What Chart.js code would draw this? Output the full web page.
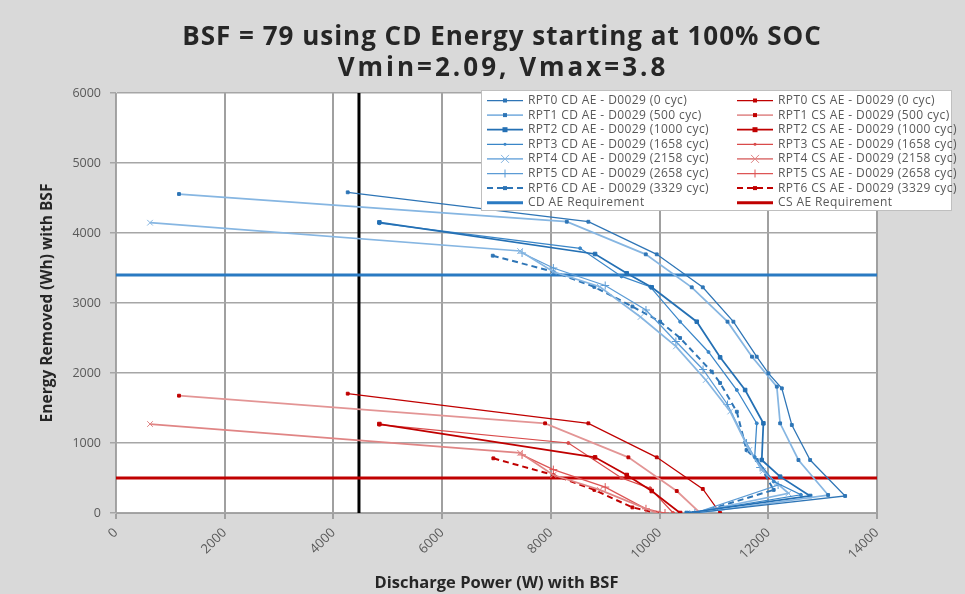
<!DOCTYPE html>
<html>
<head>
<meta charset="utf-8">
<script src="https://cdn.jsdelivr.net/npm/chart.js@4.4.0/dist/chart.umd.min.js"></script>
<style>
  html, body { margin: 0; padding: 0; background: #d9d9d9; }
  #wrap { width: 965px; height: 594px; }
</style>
</head>
<body>
<div id="wrap"><canvas id="bsfChart" width="965" height="594"></canvas></div>
<script>
// discharge power (W) / energy removed (Wh) pairs, one list per RPT
const rpt0CD = [[4263,4581],[8690,4161],[9948,3695],[10795,3224],[11358,2733],[11787,2233],[12003,1995],[12249,1781],[12433,1257],[12770,757],[13414,243],[10620,0]];
const rpt1CD = [[1159,4557],[8293,4161],[9746,3695],[10592,3224],[11250,2733],[11700,2233],[12157,1805],[12218,1281],[12555,757],[13101,257],[10700,0]];
const rpt2CD = [[4845,4152],[8813,3700],[9396,3424],[9856,3224],[10684,2733],[11114,2224],[11574,1757],[11910,1281],[11880,757],[12218,519],[12770,243],[10500,0]];
const rpt3CD = [[4845,4140],[8538,3781],[9300,3380],[9826,3233],[10378,2733],[10900,2300],[11421,1757],[11788,1281],[11750,800],[12100,450],[12600,260],[10550,0]];
const rpt4CD = [[626,4147],[7434,3743],[8046,3447],[8900,3233],[9650,2800],[10300,2380],[10850,1900],[11300,1450],[11650,900],[11900,600],[12371,281],[10600,0]];
const rpt5CD = [[7470,3714],[8046,3500],[9000,3250],[9750,2900],[10300,2450],[10800,2050],[11250,1550],[11600,1000],[11850,650],[12181,400],[10650,0]];
const rpt6CD = [[6931,3676],[8046,3447],[8800,3230],[9500,2950],[10010,2733],[10378,2500],[10960,2019],[11114,1857],[11421,1447],[11600,900],[11788,757],[12100,330],[10700,0]];

const rpt0CS = [[4263,1705],[8690,1281],[9948,795],[10795,344],[11114,0]];
const rpt1CS = [[1159,1676],[7894,1281],[9426,795],[10316,314],[10746,0]];
const rpt2CS = [[4845,1271],[8813,795],[9396,543],[9856,314],[10378,0]];
const rpt3CS = [[4845,1262],[8322,1000],[9300,500],[9826,353],[10250,0]];
const rpt4CS = [[626,1271],[7434,860],[8046,543],[8900,330],[9948,0]];
const rpt5CS = [[7470,830],[8046,620],[9000,370],[9750,60],[10100,0]];
const rpt6CS = [[6942,781],[8046,543],[8800,330],[9500,80],[9948,0]];

const cdRequirement = 3400;
const csRequirement = 500;
const markerPower = 4470;

const cdLabels = ['RPT0 CD AE - D0029 (0 cyc)', 'RPT1 CD AE - D0029 (500 cyc)', 'RPT2 CD AE - D0029 (1000 cyc)',
  'RPT3 CD AE - D0029 (1658 cyc)', 'RPT4 CD AE - D0029 (2158 cyc)', 'RPT5 CD AE - D0029 (2658 cyc)', 'RPT6 CD AE - D0029 (3329 cyc)'];
const csLabels = ['RPT0 CS AE - D0029 (0 cyc)', 'RPT1 CS AE - D0029 (500 cyc)', 'RPT2 CS AE - D0029 (1000 cyc)',
  'RPT3 CS AE - D0029 (1658 cyc)', 'RPT4 CS AE - D0029 (2158 cyc)', 'RPT5 CS AE - D0029 (2658 cyc)', 'RPT6 CS AE - D0029 (3329 cyc)'];

const powerTicks = [0, 2000, 4000, 6000, 8000, 10000, 12000, 14000];
const energyTicks = [0, 1000, 2000, 3000, 4000, 5000, 6000];

const FONT = "'Open Sans', 'DejaVu Sans', sans-serif";

const cdStyles = [
  { color: '#2e75b6', width: 1.25, point: 'rect', r: 2 },
  { color: '#86b6e2', width: 1.75, point: 'rect', r: 2, pointColor: '#2e75b6' },
  { color: '#2470b4', width: 1.75, point: 'rect', r: 2.5 },
  { color: '#3a86c8', width: 1.25, point: 'circle', r: 1.5 },
  { color: '#86b6e2', width: 1.75, point: 'crossRot', r: 4 },
  { color: '#5b9bd5', width: 1.25, point: 'cross', r: 4 },
  { color: '#2e75b6', width: 2, point: 'rect', r: 2, dash: [6, 4] }
];
const csStyles = [
  { color: '#c00000', width: 1.25, point: 'rect', r: 2 },
  { color: '#e39595', width: 1.75, point: 'rect', r: 2, pointColor: '#c00000' },
  { color: '#c00000', width: 1.75, point: 'rect', r: 2.5 },
  { color: '#d94a4a', width: 1.25, point: 'circle', r: 1.5 },
  { color: '#e08585', width: 1.75, point: 'crossRot', r: 4 },
  { color: '#dd5555', width: 1.25, point: 'cross', r: 4 },
  { color: '#c00000', width: 2, point: 'rect', r: 2, dash: [6, 4] }
];

const toXY = pts => pts.map(p => ({ x: p[0], y: p[1] }));

function series(label, pts, st, col, row) {
  return {
    label: label,
    data: toXY(pts),
    showLine: true,
    borderColor: st.color,
    backgroundColor: st.pointColor || st.color,
    pointBorderColor: st.pointColor || st.color,
    pointBackgroundColor: st.pointColor || st.color,
    borderWidth: st.width,
    borderDash: st.dash || [],
    pointStyle: st.point,
    pointRadius: st.r,
    pointBorderWidth: 1,
    tension: 0,
    legendSlot: { col: col, row: row, style: st }
  };
}

const cdSets = [rpt0CD, rpt1CD, rpt2CD, rpt3CD, rpt4CD, rpt5CD, rpt6CD];
const csSets = [rpt0CS, rpt1CS, rpt2CS, rpt3CS, rpt4CS, rpt5CS, rpt6CS];

const datasets = [];
cdSets.forEach((pts, i) => datasets.push(series(cdLabels[i], pts, cdStyles[i], 0, i)));
csSets.forEach((pts, i) => datasets.push(series(csLabels[i], pts, csStyles[i], 1, i)));

function flatLine(label, value, color, col) {
  return {
    label: label,
    data: [{ x: 0, y: value }, { x: 14000, y: value }],
    showLine: true,
    borderColor: color,
    borderWidth: 3,
    pointRadius: 0,
    legendSlot: { col: col, row: 7, style: { color: color, width: 3 } }
  };
}
datasets.push(flatLine('CD AE Requirement', cdRequirement, '#2a7ac2', 0));
datasets.push(flatLine('CS AE Requirement', csRequirement, '#c00000', 1));
datasets.push({
  label: 'marker',
  data: [{ x: markerPower, y: 0 }, { x: markerPower, y: 6000 }],
  showLine: true,
  borderColor: '#000000',
  borderWidth: 3,
  pointRadius: 0
});

function drawMarker(ctx, style, x, y, r, color) {
  ctx.save();
  ctx.fillStyle = color;
  ctx.strokeStyle = color;
  ctx.lineWidth = 1;
  ctx.setLineDash([]);
  ctx.beginPath();
  if (style === 'rect') {
    ctx.fillRect(x - r, y - r, 2 * r, 2 * r);
  } else if (style === 'crossRot') {
    ctx.moveTo(x - r, y - r); ctx.lineTo(x + r, y + r);
    ctx.moveTo(x + r, y - r); ctx.lineTo(x - r, y + r);
    ctx.stroke();
  } else if (style === 'cross') {
    ctx.moveTo(x - r, y); ctx.lineTo(x + r, y);
    ctx.moveTo(x, y - r); ctx.lineTo(x, y + r);
    ctx.stroke();
  } else if (style === 'circle') {
    ctx.arc(x, y, r, 0, Math.PI * 2);
    ctx.fill();
  }
  ctx.restore();
}

// grey page, white plot area
const backdrop = {
  id: 'backdrop',
  beforeDraw(chart) {
    const { ctx, chartArea: a } = chart;
    ctx.save();
    ctx.fillStyle = '#d9d9d9';
    ctx.fillRect(0, 0, chart.width, chart.height);
    ctx.fillStyle = '#ffffff';
    ctx.fillRect(a.left, a.top, a.right - a.left, a.bottom - a.top);
    ctx.restore();
  }
};

// two-line title centred over the plot
const titleLines = {
  id: 'titleLines',
  afterDraw(chart) {
    const ctx = chart.ctx;
    ctx.save();
    ctx.fillStyle = '#262626';
    ctx.font = 'bold 26px ' + FONT;
    ctx.textAlign = 'center';
    ctx.textBaseline = 'middle';
    ctx.letterSpacing = '1px';
    ctx.fillText('BSF = 79 using CD Energy starting at 100% SOC', 502, 38);
    ctx.letterSpacing = '3px';
    ctx.fillText('Vmin=2.09, Vmax=3.8', 503, 69);
    ctx.restore();
  }
};

// two-column legend box sitting in the upper right of the plot
const boxLegend = {
  id: 'boxLegend',
  afterDraw(chart) {
    const ctx = chart.ctx;
    const left = 481, top = 90, w = 470, h = 120;
    const colX = [487, 737];
    const rowY = r => 100.5 + r * 14.6;
    ctx.save();
    ctx.fillStyle = '#ffffff';
    ctx.fillRect(left, top, w, h);
    ctx.strokeStyle = '#bfbfbf';
    ctx.lineWidth = 1;
    ctx.strokeRect(left + 0.5, top + 0.5, w, h);
    ctx.font = '12px ' + FONT;
    ctx.letterSpacing = '0.4px';
    ctx.textBaseline = 'middle';
    chart.data.datasets.forEach(ds => {
      const slot = ds.legendSlot;
      if (!slot) return;
      const st = slot.style;
      const x0 = colX[slot.col], y = rowY(slot.row);
      ctx.save();
      ctx.strokeStyle = st.color;
      ctx.lineWidth = st.width;
      ctx.setLineDash(st.dash || []);
      ctx.beginPath();
      ctx.moveTo(x0, y);
      ctx.lineTo(x0 + 36, y);
      ctx.stroke();
      ctx.restore();
      if (st.point) drawMarker(ctx, st.point, x0 + 18, y, st.r, st.pointColor || st.color);
      ctx.fillStyle = '#595959';
      ctx.fillText(ds.label, x0 + 41, y);
    });
    ctx.restore();
  }
};

const ctx = document.getElementById('bsfChart').getContext('2d');
const bsfChart = new Chart(ctx, {
  type: 'scatter',
  data: { datasets: datasets },
  plugins: [backdrop, titleLines, boxLegend],
  options: {
    responsive: false,
    animation: false,
    layout: { padding: { top: 93, right: 88, left: 36, bottom: 0 } },
    plugins: {
      legend: { display: false },
      title: { display: false },
      tooltip: { enabled: false }
    },
    scales: {
      x: {
        type: 'linear',
        min: 0,
        max: 14000,
        afterFit: s => { s.height = 81; },
        ticks: {
          stepSize: 400,
          autoSkip: false,
          minRotation: 45,
          maxRotation: 45,
          color: '#595959',
          font: { family: FONT, size: 13 },
          padding: 6,
          callback: v => powerTicks.includes(v) ? String(v) : null
        },
        grid: {
          color: c => powerTicks.includes(c.tick.value) ? '#a0a0a0' : '#dcdcdc',
          lineWidth: c => powerTicks.includes(c.tick.value) ? 2 : 1,
          tickColor: c => powerTicks.includes(c.tick.value) ? '#a0a0a0' : 'rgba(0,0,0,0)',
          tickLength: 6
        },
        border: { color: '#a0a0a0', width: 1 },
        title: {
          display: true,
          text: 'Discharge Power (W) with BSF',
          color: '#262626',
          font: { family: FONT, size: 16.5, weight: 'bold' },
          padding: { top: 4, bottom: 1 }
        }
      },
      y: {
        min: 0,
        max: 6000,
        afterFit: s => { s.width = 80; },
        ticks: {
          stepSize: 200,
          autoSkip: false,
          color: '#595959',
          font: { family: FONT, size: 12.5 },
          padding: 9,
          callback: v => energyTicks.includes(v) ? String(v) : null
        },
        grid: {
          color: c => energyTicks.includes(c.tick.value) ? '#a6a6a6' : '#e0e0e0',
          lineWidth: c => energyTicks.includes(c.tick.value) ? 1.5 : 1,
          tickColor: c => energyTicks.includes(c.tick.value) ? '#a6a6a6' : 'rgba(0,0,0,0)',
          tickLength: 6
        },
        border: { color: '#a6a6a6', width: 1 },
        title: {
          display: true,
          text: 'Energy Removed (Wh) with BSF',
          color: '#262626',
          font: { family: FONT, size: 15.5, weight: 'bold' },
          padding: { top: 2, bottom: 4 }
        }
      }
    }
  }
});
</script>
</body>
</html>
